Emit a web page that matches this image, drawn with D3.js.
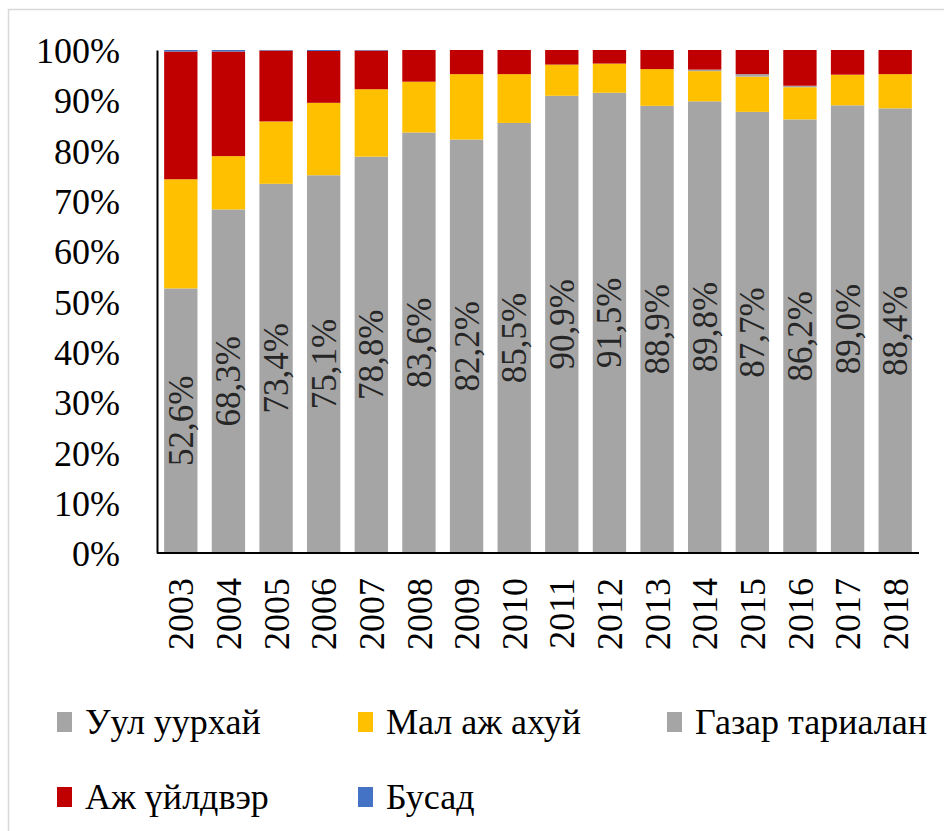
<!DOCTYPE html>
<html>
<head>
  <meta charset="utf-8">
  <style>
    body { margin: 0; background: #fff; }
  </style>
</head>
<body>
<script src="https://cdn.jsdelivr.net/npm/d3@7/dist/d3.min.js"></script>
<script>
  // data (shares in %)
  var years    = ["2003","2004","2005","2006","2007","2008","2009","2010",
                  "2011","2012","2013","2014","2015","2016","2017","2018"];
  var mining   = [52.6, 68.3, 73.4, 75.1, 78.8, 83.6, 82.2, 85.5, 90.9, 91.5, 88.9, 89.8, 87.7, 86.2, 89.0, 88.4];
  var herding  = [21.7, 10.6, 12.4, 14.4, 13.4, 10.1, 13.0,  9.7,  6.2,  5.8,  7.3,  6.0,  7.0,  6.4,  6.1,  6.8];
  var farming  = [ 0.0,  0.0,  0.0,  0.0,  0.0,  0.0,  0.0,  0.0,  0.0,  0.0,  0.0,  0.3,  0.5,  0.3,  0.0,  0.0];
  var industry = [25.4, 20.8, 14.1, 10.3,  7.7,  6.3,  4.8,  4.8,  2.9,  2.7,  3.8,  3.9,  4.8,  7.1,  4.9,  4.8];
  var other    = [ 0.3,  0.3,  0.1,  0.2,  0.1,  0.0,  0.0,  0.0,  0.0,  0.0,  0.0,  0.0,  0.0,  0.0,  0.0,  0.0];
  var seriesNames  = ["Уул уурхай", "Мал аж ахуй", "Газар тариалан", "Аж үйлдвэр", "Бусад"];
  var seriesColors = ["#A5A5A5", "#FFC000", "#A5A5A5", "#C00000", "#4472C4"];
  var yTicks = [0, 10, 20, 30, 40, 50, 60, 70, 80, 90, 100];

  var FONT = "'Liberation Serif', 'DejaVu Serif', serif";
  var W = 944, H = 831;
  var plotLeft = 157, plotRight = 919, plotTop = 50, plotBottom = 553;

  var svg = d3.select("body").append("svg")
      .attr("width", W)
      .attr("height", H);

  // light chart-area border
  svg.append("rect")
      .attr("x", 8.5).attr("y", 9.5)
      .attr("width", W).attr("height", H)
      .style("fill", "none")
      .style("stroke", "#D9D9D9")
      .style("stroke-width", 1.5);

  var xScale = d3.scaleBand().domain(years).range([plotLeft, plotRight]).paddingInner(0.3).paddingOuter(0.15);
  var yScale = d3.scaleLinear().domain([0, 100]).range([plotBottom, plotTop]);

  // build stack rows
  var rows = years.map(function (y, i) {
    return { year: y, s0: mining[i], s1: herding[i], s2: farming[i], s3: industry[i], s4: other[i] };
  });
  var stack = d3.stack().keys(["s0", "s1", "s2", "s3", "s4"]);
  var layers = stack(rows);

  svg.selectAll("g.layer")
    .data(layers)
    .enter().append("g")
      .attr("class", "layer")
      .style("fill", function (d, i) { return seriesColors[i]; })
    .selectAll("rect")
    .data(function (d) { return d; })
    .enter().append("rect")
      .attr("x", function (d) { return xScale(d.data.year); })
      .attr("width", xScale.bandwidth())
      .attr("y", function (d) { return yScale(d[1]); })
      .attr("height", function (d) { return Math.max(0, yScale(d[0]) - yScale(d[1])); });

  // data labels for mining, rotated, centred in segment
  svg.selectAll("text.lbl")
    .data(rows)
    .enter().append("text")
      .attr("class", "lbl")
      .attr("transform", function (d) {
        return "translate(" + (xScale(d.year) + xScale.bandwidth() / 2 + 12) + "," + yScale(d.s0 / 2) + ") rotate(-90)";
      })
      .style("font-family", FONT)
      .style("font-size", "35px")
      .style("fill", "#262626")
      .style("text-anchor", "middle")
      .text(function (d) { return d.s0.toFixed(1).replace(".", ",") + "%"; });

  // y axis
  var yAxis = d3.axisLeft(yScale).tickValues(yTicks).tickSize(0).tickPadding(37)
      .tickFormat(function (d) { return d + "%"; });
  var ya = svg.append("g")
      .attr("transform", "translate(" + plotLeft + ",0)")
      .call(yAxis);
  ya.selectAll(".tick text")
      .attr("dy", "0.35em")
      .style("font-family", FONT)
      .style("font-size", "36px")
      .style("fill", "#000");
  ya.select(".domain").style("stroke", "#000").style("stroke-width", 2);

  // x axis
  var xAxis = d3.axisBottom(xScale).tickSize(0).tickPadding(0);
  var xa = svg.append("g")
      .attr("transform", "translate(0," + plotBottom + ")")
      .call(xAxis);
  xa.select(".domain").attr("d", "M" + plotLeft + ",0H" + plotRight).style("stroke", "#000").style("stroke-width", 2);
  xa.selectAll(".tick text")
      .attr("transform", "rotate(-90)")
      .attr("x", -25)
      .attr("y", 0)
      .attr("dy", "0.35em")
      .style("font-family", FONT)
      .style("font-size", "36px")
      .style("fill", "#000")
      .style("text-anchor", "end");

  // legend
  var legendPos = [[57, 722], [358, 722], [667, 722], [57, 797], [358, 797]];
  var lg = svg.append("g").attr("class", "legend")
    .selectAll("g")
    .data(seriesNames)
    .enter().append("g")
      .attr("transform", function (d, i) { return "translate(" + legendPos[i][0] + "," + legendPos[i][1] + ")"; });
  lg.append("rect")
      .attr("x", 0).attr("y", -10)
      .attr("width", 15).attr("height", 20)
      .style("fill", function (d, i) { return seriesColors[i]; });
  lg.append("text")
      .attr("x", 28)
      .attr("y", 12)
      .style("font-family", FONT)
      .style("font-size", "36px")
      .style("fill", "#000")
      .text(function (d) { return d; });
</script>
</body>
</html>
